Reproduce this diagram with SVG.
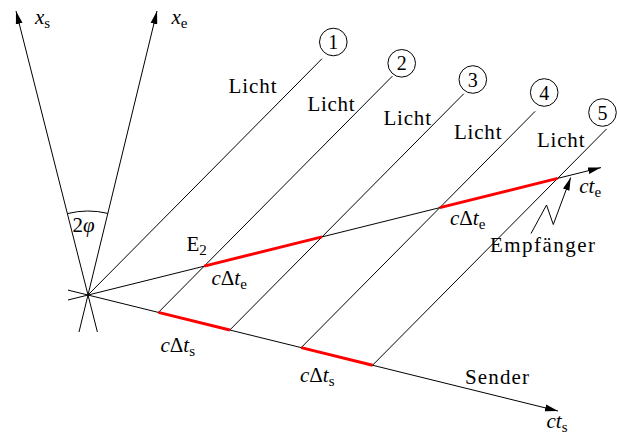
<svg xmlns="http://www.w3.org/2000/svg" width="617" height="435" viewBox="0 0 617 435">
<style>
  .ln{stroke:#000;stroke-width:1;fill:none}
  .red{stroke:#ff0000;stroke-width:3;fill:none;stroke-linecap:butt}
  text{font-family:"Liberation Serif","Times New Roman",serif;font-size:21px;fill:#000}
  .it{font-style:italic}
  .sub{font-size:15px}
  .num{font-size:20px;text-anchor:middle}
  .circ{stroke:#000;stroke-width:1;fill:none}
</style>
<defs>
  <marker id="ah" markerUnits="userSpaceOnUse" markerWidth="14" markerHeight="8" refX="13" refY="4" orient="auto">
    <path d="M0,0.6 L13,4 L0,7.4 Z" fill="#000"/>
  </marker>
</defs>
<rect width="617" height="435" fill="#fff"/>
<g id="connectors">
  <!-- axes -->
  <line class="ln" x1="97.4" y1="332" x2="16" y2="11" marker-end="url(#ah)"/>
  <line class="ln" x1="79" y1="332" x2="157" y2="11" marker-end="url(#ah)"/>
  <line class="ln" x1="68" y1="290.1" x2="558" y2="411" marker-end="url(#ah)"/>
  <line class="ln" x1="68" y1="300" x2="601" y2="167.6" marker-end="url(#ah)"/>
  <!-- light lines -->
  <line class="ln" x1="88" y1="295" x2="322" y2="58.7"/>
  <line class="ln" x1="158.4" y1="312.4" x2="392.4" y2="76.1"/>
  <line class="ln" x1="229.8" y1="330" x2="463.8" y2="93.7"/>
  <line class="ln" x1="301.2" y1="347.6" x2="535.2" y2="111.3"/>
  <line class="ln" x1="372.6" y1="365.2" x2="606.6" y2="128.9"/>
  <!-- angle arc -->
  <path class="ln" d="M67.4,213.6 A84,84 0 0 1 107.8,213.4"/>
  <!-- red intervals -->
  <line class="red" x1="158.4" y1="312.4" x2="229.8" y2="330"/>
  <line class="red" x1="301.2" y1="347.6" x2="372.6" y2="365.2"/>
  <line class="red" x1="204.2" y1="266.1" x2="322" y2="236.9"/>
  <line class="red" x1="439.8" y1="207.6" x2="557.6" y2="178.4"/>
  <!-- receiver pointer -->
  <polyline class="ln" points="531,233.5 546.5,205 553.3,224.5 570.7,177.5" marker-end="url(#ah)"/>
</g>
<g id="axis-xs"><text x="35" y="23.5" class="it" font-size="22">x<tspan class="sub" dy="4" font-style="normal">s</tspan></text></g>
<g id="axis-xe"><text x="171.5" y="23.5" class="it" font-size="22">x<tspan class="sub" dy="4" font-style="normal">e</tspan></text></g>
<g id="angle"><text x="72.5" y="231.5">2<tspan class="it">φ</tspan></text></g>
<g id="n1"><circle class="circ" cx="333.3" cy="42" r="13.8"/><text class="num" x="333.3" y="49">1</text></g>
<g id="n2"><circle class="circ" cx="401.7" cy="63.3" r="13.8"/><text class="num" x="401.7" y="70.3">2</text></g>
<g id="n3"><circle class="circ" cx="472.8" cy="79.5" r="13.8"/><text class="num" x="472.8" y="86.5">3</text></g>
<g id="n4"><circle class="circ" cx="544.2" cy="92.5" r="13.8"/><text class="num" x="544.2" y="99.5">4</text></g>
<g id="n5"><circle class="circ" cx="602.5" cy="112.5" r="13.8"/><text class="num" x="602.5" y="119.5">5</text></g>
<g id="licht1"><text x="228.5" y="93" textLength="48" lengthAdjust="spacing">Licht</text></g>
<g id="licht2"><text x="307.5" y="111" textLength="47" lengthAdjust="spacing">Licht</text></g>
<g id="licht3"><text x="383.5" y="125" textLength="47.5" lengthAdjust="spacing">Licht</text></g>
<g id="licht4"><text x="454" y="138.5" textLength="47.5" lengthAdjust="spacing">Licht</text></g>
<g id="licht5"><text x="537" y="146.5" textLength="47.5" lengthAdjust="spacing">Licht</text></g>
<g id="E2"><text x="186.5" y="251">E<tspan class="sub" dy="3.5">2</tspan></text></g>
<g id="dte1"><text x="211.5" y="285"><tspan class="it">c</tspan>Δ<tspan class="it">t</tspan><tspan class="sub" dy="4">e</tspan></text></g>
<g id="dte2"><text x="450" y="225"><tspan class="it">c</tspan>Δ<tspan class="it">t</tspan><tspan class="sub" dy="4">e</tspan></text></g>
<g id="dts1"><text x="160.5" y="351.5"><tspan class="it">c</tspan>Δ<tspan class="it">t</tspan><tspan class="sub" dy="4">s</tspan></text></g>
<g id="dts2"><text x="300" y="381.5"><tspan class="it">c</tspan>Δ<tspan class="it">t</tspan><tspan class="sub" dy="4">s</tspan></text></g>
<g id="cte"><text x="579.3" y="193.3"><tspan class="it">ct</tspan><tspan class="sub" dy="4">e</tspan></text></g>
<g id="cts"><text x="546.5" y="428"><tspan class="it">ct</tspan><tspan class="sub" dy="3.5">s</tspan></text></g>
<g id="empfaenger"><text x="490" y="251.5" textLength="105" lengthAdjust="spacing">Empfänger</text></g>
<g id="sender"><text x="465" y="384" textLength="64" lengthAdjust="spacing">Sender</text></g>
</svg>
